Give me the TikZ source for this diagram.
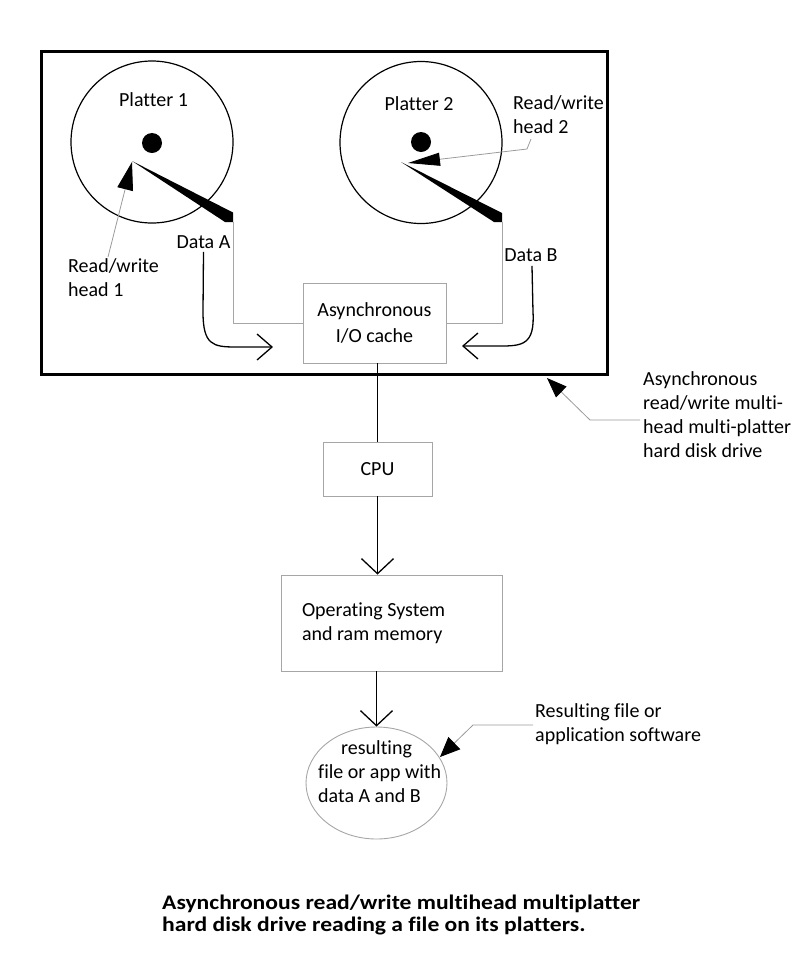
\documentclass[tikz,border=0pt]{standalone}
\usepackage{fontspec}
\setmainfont{Carlito}[Ligatures=NoCommon]
\newfontfamily\titlefont{Carlito}[Ligatures=NoCommon, FakeStretch=1.14]
\usetikzlibrary{arrows.meta,shapes.geometric}
\definecolor{boxgrey}{HTML}{A6A6A6}
\definecolor{ptrgrey}{HTML}{9A9A9A}
\begin{document}
\begin{tikzpicture}[x=1pt,y=-1pt,
  lbl/.style={font=\fontsize{20}{24}\selectfont, inner sep=0pt, align=flush left},
  gbox/.style={draw=boxgrey, line width=0.9pt, rectangle, font=\fontsize{20}{24}\selectfont},
  platter/.style={draw=black, line width=1.2pt, circle, minimum size=162pt, inner sep=0pt},
  spindle/.style={fill=black, circle, minimum size=20pt, inner sep=0pt},
  conn/.style={line width=1.3pt, -{Straight Barb[length=15pt,width=32pt,line width=1.3pt]}},
  flow/.style={line width=1.3pt, -{Straight Barb[length=15pt,width=26pt,line width=1.3pt]}},
  ptr/.style={draw=ptrgrey, line width=0.8pt},
  wire/.style={draw=boxgrey, line width=0.9pt},
]
\useasboundingbox (0,0) rectangle (800,954);

% drive enclosure
\node[draw=black, line width=3pt, minimum width=566pt, minimum height=323pt, inner sep=0pt] (drive) at (324.5,213) {};

% platters
\node[platter] (plat1) at (152,142) {};
\node[platter] (plat2) at (421,142.5) {};
\node[spindle] (dot1) at (152,143) {};
\node[spindle] (dot2) at (421,142) {};
\node[lbl, anchor=base] (p1lbl) at (153.5,106.5) {Platter 1};
\node[lbl, anchor=base] (p2lbl) at (419,110.5) {Platter 2};

% arms
\coordinate (tip1) at (132,162);
\coordinate (tip2) at (401,163);
\coordinate (endA) at (233,222);
\coordinate (endB) at (502,222);
\fill (132,161) -- (233,212.5) -- (233,222) -- (225,222) -- cycle;
\fill (401,162) -- (502,213) -- (502,222) -- (494,222) -- cycle;

% head labels and pointers
\node[lbl, anchor=base west] (h1lbl) at (68,296.5) {Read/write\\head 1};
\node[lbl, anchor=base west] (h2lbl) at (513,133.5) {Read/write\\head 2};
\coordinate (h1p) at (108,257);
\coordinate (h2p) at (531,139);
\draw[ptr, -{Triangle[length=28pt,width=16pt,color=black]}] (h1p) -- (tip1);
\draw[ptr, -{Triangle[length=32pt,width=13pt,color=black]}] (h2p) -- (527,149) -- (408,163);

% cache
\node[gbox, minimum width=143pt, minimum height=80pt, align=center, inner sep=0pt] (cache) at (374.5,323) {Asynchronous\\[2pt]I/O cache};
\draw[wire] (endA) |- (cache.west);
\draw[wire] (endB) |- (cache.east);

% data labels and flow arrows
\node[lbl, anchor=base] (dataA) at (203.5,248.5) {Data A};
\node[lbl, anchor=base] (dataB) at (531,261.5) {Data B};
\draw[flow] (dataA.south) ++(0,3) -- (203,312) .. controls (203,345) and (213,347) .. (236,347) -- (273,347);
\draw[flow] (dataB.south) ++(1,4) -- (533,312) .. controls (535,345) and (522,346) .. (500,346) -- (462,346);

% CPU, OS, result
\node[gbox, minimum width=109pt, minimum height=54pt, inner sep=0pt] (cpu) at (377.5,469) {CPU};
\node[gbox, minimum height=96pt, text width=179pt, inner xsep=21pt, inner ysep=0pt, align=flush left] (os) at (391.5,623) {Operating System\\and ram memory};
\node[draw=boxgrey, line width=0.9pt, ellipse, minimum width=141pt, minimum height=112pt, inner sep=0pt] (res) at (376.5,783) {};
\node[lbl, anchor=base west] (restext) at (318,802.5) {\hspace*{23pt}resulting\\file or app with\\data A and B};

\draw[line width=1.3pt] (cpu.north |- cache.south) -- (cpu.north);
\draw[conn] (cpu.south) -- (cpu.south |- os.north);
\draw[conn] (os.south -| res.north) -- (res.north);

% drive label
\node[lbl, anchor=base west] (drvlbl) at (643,457.5) {Asynchronous\\read/write multi-\\head multi-platter\\hard disk drive};
\coordinate (drvp) at (640,420);
\draw[ptr, -{Triangle[length=20pt,width=15pt,color=black]}] (drvp) -- (590,420) -- (547,378);

% result label
\node[lbl, anchor=base west] (reslbl) at (535,741.5) {Resulting file or\\application software};
\coordinate (resp) at (533,725);
\draw[ptr, -{Triangle[length=20pt,width=17pt,color=black]}] (resp) -- (473,725) -- (440,757);

% caption
\node[anchor=base west, inner sep=0pt, align=flush left, font=\titlefont\bfseries\fontsize{20.7}{22}\selectfont] (title) at (162,931.5) {Asynchronous read/write multihead multiplatter\\hard disk drive reading a file on its platters.};
\end{tikzpicture}
\end{document}
